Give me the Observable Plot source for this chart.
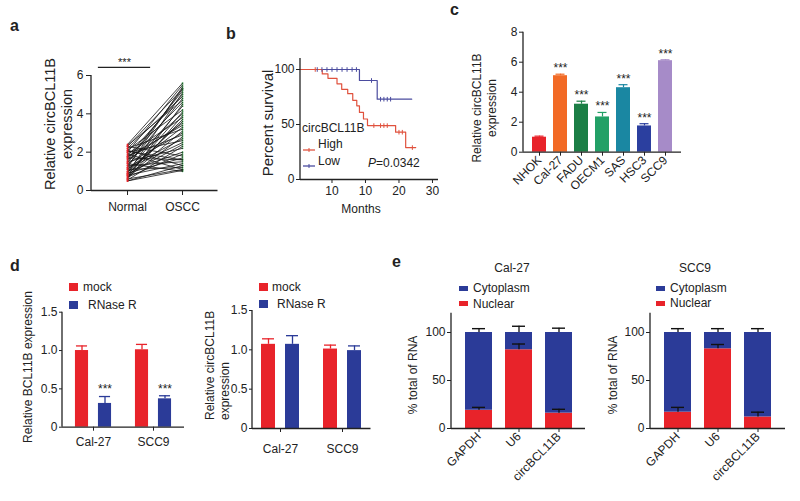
<!DOCTYPE html>
<html><head><meta charset="utf-8">
<script src="https://cdn.jsdelivr.net/npm/d3@7"></script>
<script src="https://cdn.jsdelivr.net/npm/@observablehq/plot@0.6"></script>
<style>
body{margin:0;background:#fff;}
#root{position:relative;width:800px;height:501px;overflow:hidden;background:#fff;}
</style></head><body><div id="root"></div>
<script>
// ---------------- DATA ----------------
// panel a: paired expression (Normal vs OSCC)
const aGroups = ["Normal", "OSCC"];
const aYTicks = [0, 2, 4, 6];
const aNormal = [2.4,2.3,2.3,2.2,2.2,2.1,2.1,2.0,2.0,1.9,1.9,1.8,1.8,1.7,1.7,1.6,1.6,1.5,1.5,1.4,1.4,1.3,1.3,1.2,1.2,1.1,1.1,1.0,1.0,0.95,0.9,0.9,0.85,0.8,0.8,0.75,0.7,0.7,0.65,0.6,0.6,0.55,0.5,2.35,2.05,1.75,1.45,1.15,0.85,0.5];
const aOSCC   = [5.6,1.8,5.3,3.2,4.9,1.3,4.2,5.5,2.6,3.8,1.1,5.0,2.9,4.6,1.6,3.5,5.2,2.2,4.0,1.0,3.0,4.8,1.5,2.7,5.4,3.3,1.2,4.4,2.0,3.6,1.7,5.1,2.4,4.1,1.4,3.1,2.8,1.9,4.5,1.1,3.9,2.3,1.3,4.7,1.6,3.4,5.3,2.5,3.7,1.05];
const aSig = [{x1: -0.53, x2: 0.42, y: 6.42, label: "***"}];

// panel b: Kaplan-Meier
const bXTicks = [0, 10, 20, 30];
const bXTickLabels = ["10", "10", "20", "30"];
const bYTicks = [0, 50, 100];
const bHighTime = [-9.4,-2.9,-1.2,1.5,2.9,4.7,6.2,7.4,8.2,9.4,10.6,19.0,22.0,25.0];
const bHighSurv = [100,96,92,87,82,78,72,67,61,55,49,43,29,29];
const bLowTime  = [-9.4,8.2,13.5,23.8];
const bLowSurv  = [100,90,73,73];
const bHighCensorTime = [-5.0,12.5,14.5,15.5,16.5,20.0,21.0,24.0];
const bHighCensorSurv = [100,49,49,49,49,43,43,29];
const bLowCensorTime  = [-4.4,-3.0,-1.5,0.0,1.5,3.0,4.5,6.0,7.3,11.8,14.5,15.5,16.5,17.5];
const bLowCensorSurv  = [100,100,100,100,100,100,100,100,100,90,73,73,73,73];

// panel c: cell lines
const cCells  = ["NHOK","Cal-27","FADU","OECM1","SAS","HSC3","SCC9"];
const cValues = [1.0,5.1,3.2,2.35,4.3,1.75,6.1];
const cErrors = [0.07,0.1,0.2,0.3,0.2,0.15,0.06];
const cSig    = ["","***","***","***","***","***","***"];
const cColors = ["#e8232a","#f26a25","#1b7e45","#22a066","#1a87a2","#2b3f9f","#a68bc8"];
const cYTicks = [0,2,4,6,8];

// panel d: RNase R
const dCells = ["Cal-27","SCC9"];
const dTreat = ["mock","RNase R"];
const dYTicks = [0,0.5,1.0,1.5];
const dBclMock = [1.00,1.01], dBclMockErr = [0.06,0.07];
const dBclRnase = [0.31,0.37], dBclRnaseErr = [0.09,0.04];
const dBclSig = ["***","***"];
const dCircMock = [1.07,1.01], dCircMockErr = [0.07,0.05];
const dCircRnase = [1.07,0.99], dCircRnaseErr = [0.11,0.06];

// panel e: subcellular fractions
const eGenes = ["GAPDH","U6","circBCL11B"];
const eComps = ["Cytoplasm","Nuclear"];
const eYTicks = [0,50,100];
const eCalNuclear = [19,82,16], eCalNuclearErr = [3,6,4], eCalCyto = [81,18,84], eCalTotalErr = [4,6.5,4.5];
const eSccNuclear = [17,83,12], eSccNuclearErr = [5,4.5,5], eSccCyto = [83,17,88], eSccTotalErr = [4,4,4];

// ---------------- STYLE ----------------
const FONT = "'Liberation Sans', Arial, Helvetica, sans-serif";
const RED = "#e8232a", BLUE = "#2b3b98", AX = "#222";
const KM_RED = "#e0523e", KM_BLUE = "#4b4c9f";
const baseStyle = {fontFamily: FONT, fontSize: "12px", color: "#222", background: "none", overflow: "visible"};
const root = document.getElementById("root");
const fmtNum = v => String(v);

function place(svg, left, top, mL, mT, yBottom) {
  svg.style.position = "absolute";
  svg.style.left = left + "px";
  svg.style.top = top + "px";
  d3.select(svg).append("line")
    .attr("x1", mL).attr("x2", mL).attr("y1", mT).attr("y2", yBottom)
    .attr("stroke", AX).attr("stroke-width", 1.3);
  root.appendChild(svg);
}

// ---------------- PANEL a ----------------
{
  const W = 220, H = 200, mL = 91, mR = 2.5, mT = 35, mB = 50;
  const long = aNormal.flatMap((v, i) => [{id: i, g: 0, v}, {id: i, g: 1, v: aOSCC[i]}]);
  const p = Plot.plot({
    width: W, height: H, marginLeft: mL, marginRight: mR, marginTop: mT, marginBottom: mB,
    style: baseStyle,
    x: {domain: [-0.655, 1.645], ticks: [0, 1], tickFormat: i => aGroups[i], tickSize: 5, tickPadding: 6.5, label: null},
    y: {domain: [0, 6], ticks: aYTicks, tickFormat: fmtNum, tickSize: 5, tickPadding: 3, label: null},
    marks: [
      Plot.dot(long.filter(d => d.g === 1), {x: "g", y: "v", r: 0.9, fill: "#3aa04c"}),
      Plot.line(long, {x: "g", y: "v", z: "id", stroke: "#151515", strokeWidth: 0.8}),
      Plot.dot(long.filter(d => d.g === 0), {x: "g", y: "v", r: 0.9, fill: RED}),
      Plot.ruleY([0], {stroke: AX, strokeWidth: 1.3}),
      Plot.ruleY(aSig, {y: "y", x1: "x1", x2: "x2", stroke: AX, strokeWidth: 1.2}),
      Plot.text(aSig, {x: d => (d.x1 + d.x2) / 2, y: "y", text: "label", dy: -5, fontSize: 11})
    ]
  });
  place(p, 0, 40, mL, mT, H - mB);
}

// ---------------- PANEL b ----------------
{
  const W = 215, H = 190, mL = 70, mR = 7, mT = 18, mB = 51;
  const high = bHighTime.map((t, i) => ({t, s: bHighSurv[i]}));
  const low = bLowTime.map((t, i) => ({t, s: bLowSurv[i]}));
  const highC = bHighCensorTime.map((t, i) => ({t, s: bHighCensorSurv[i]}));
  const lowC = bLowCensorTime.map((t, i) => ({t, s: bLowCensorSurv[i]}));
  const vbar = {draw(ctx, size) { const r = Math.sqrt(size / Math.PI); ctx.moveTo(0, -r); ctx.lineTo(0, r); }};
  const p = Plot.plot({
    width: W, height: H, marginLeft: mL, marginRight: mR, marginTop: mT, marginBottom: mB,
    style: baseStyle,
    x: {domain: [-9.4, 31.8], ticks: bXTicks, tickFormat: v => bXTickLabels[bXTicks.indexOf(+v)], tickSize: 4, tickPadding: 3, label: null},
    y: {domain: [0, 110], ticks: bYTicks, tickFormat: fmtNum, tickSize: 4, tickPadding: 2, label: null},
    marks: [
      Plot.ruleY([0], {stroke: AX, strokeWidth: 1.3}),
      Plot.line(low, {x: "t", y: "s", curve: "step-after", stroke: KM_BLUE, strokeWidth: 1.2}),
      Plot.line(high, {x: "t", y: "s", curve: "step-after", stroke: KM_RED, strokeWidth: 1.2}),
      Plot.dot(lowC, {x: "t", y: "s", symbol: vbar, r: 2.3, stroke: KM_BLUE, fill: "none", strokeWidth: 1}),
      Plot.dot(highC, {x: "t", y: "s", symbol: vbar, r: 2.3, stroke: KM_RED, fill: "none", strokeWidth: 1})
    ]
  });
  place(p, 230, 40, mL, mT, H - mB);
}

// ---------------- PANEL c ----------------
{
  const W = 240, H = 200, mL = 78, mR = 4, mT = 11.7, mB = 68.3;
  const rows = cCells.map((c, i) => ({c, v: cValues[i], e: cErrors[i], s: cSig[i]}));
  const p = Plot.plot({
    width: W, height: H, marginLeft: mL, marginRight: mR, marginTop: mT, marginBottom: mB,
    style: baseStyle,
    x: {type: "band", domain: cCells, paddingInner: 0.35, paddingOuter: 0.34, tickSize: 4, tickPadding: 2, tickRotate: -45, label: null},
    y: {domain: [0, 8], ticks: cYTicks, tickFormat: fmtNum, tickSize: 4, tickPadding: 2, label: null},
    color: {domain: cCells, range: cColors},
    marks: [
      Plot.barY(rows, {x: "c", y: "v", fill: "c"}),
      Plot.ruleX(rows, {x: "c", y1: "v", y2: d => d.v + d.e, stroke: "c", strokeWidth: 1.2}),
      Plot.tickY(rows, {x: "c", y: d => d.v + d.e, stroke: "c", strokeWidth: 1.2, insetLeft: 2.5, insetRight: 2.5}),
      Plot.text(rows, {x: "c", y: d => d.v + d.e, text: "s", dy: -6, fontSize: 12}),
      Plot.ruleY([0], {stroke: AX, strokeWidth: 1.3})
    ]
  });
  place(p, 445, 20, mL, mT, H - mB);
}

// ---------------- PANEL d ----------------
function dPanel(left, top, W, H, mL, mR, mT, mB, pI, pO, off, mock, mockErr, rnase, rnaseErr, sig, xPad) {
  const r0 = mL, r1 = W - mR;
  const step = (r1 - r0) / (dCells.length - pI + 2 * pO);
  const bw = step * (1 - pI), barW = 14, capW = 12;
  const mk = dCells.map((c, i) => ({c, v: mock[i], e: mockErr[i]}));
  const rn = dCells.map((c, i) => ({c, v: rnase[i], e: rnaseErr[i], s: sig ? sig[i] : ""}));
  const barMarks = (rows, o, color) => [
    Plot.barY(rows, {x: "c", y: "v", fill: color, insetLeft: bw / 2 + o - barW / 2, insetRight: bw / 2 - o - barW / 2}),
    Plot.ruleX(rows, {x: "c", y1: "v", y2: d => d.v + d.e, dx: o, stroke: color, strokeWidth: 1.3}),
    Plot.tickY(rows, {x: "c", y: d => d.v + d.e, dx: o, stroke: color, strokeWidth: 1.3, insetLeft: bw / 2 - capW / 2, insetRight: bw / 2 - capW / 2})
  ];
  const p = Plot.plot({
    width: W, height: H, marginLeft: mL, marginRight: mR, marginTop: mT, marginBottom: mB,
    style: baseStyle,
    x: {type: "band", domain: dCells, paddingInner: pI, paddingOuter: pO, tickSize: 4, tickPadding: xPad, label: null},
    y: {domain: [0, 1.5], ticks: dYTicks, tickFormat: v => v === 0 ? "0" : v.toFixed(1), tickSize: 3, tickPadding: 2, label: null},
    marks: [
      ...barMarks(mk, -off, RED),
      ...barMarks(rn, off, BLUE),
      Plot.text(rn, {x: "c", y: d => d.v + d.e, text: "s", dx: off, dy: -7, fontSize: 12}),
      Plot.ruleY([0], {stroke: AX, strokeWidth: 1.3})
    ]
  });
  place(p, left, top, mL, mT, H - mB);
}
dPanel(0, 290, 200, 180, 62, 16, 21.7, 43.3, 0.393, 0.2, 11.5, dBclMock, dBclMockErr, dBclRnase, dBclRnaseErr, dBclSig, 6);
dPanel(205, 290, 175, 180, 47, 9.5, 20, 42, 0.392, 0.144, 12, dCircMock, dCircMockErr, dCircRnase, dCircRnaseErr, null, 12);

// ---------------- PANEL e ----------------
function ePanel(left, top, W, H, mL, mR, nuc, nucErr, cyto, totErr) {
  const mT = 12.8, mB = 52;
  const rows = eGenes.map((g, i) => ({g, n: nuc[i], ne: nucErr[i], t: nuc[i] + cyto[i], te: totErr[i]}));
  const long = eGenes.flatMap((g, i) => [{g, comp: "Nuclear", v: nuc[i]}, {g, comp: "Cytoplasm", v: cyto[i]}]);
  const p = Plot.plot({
    width: W, height: H, marginLeft: mL, marginRight: mR, marginTop: mT, marginBottom: mB,
    style: baseStyle,
    x: {type: "band", domain: eGenes, paddingInner: 0.325, paddingOuter: 0.31, tickSize: 4, tickPadding: 2, tickRotate: -45, label: null},
    y: {domain: [0, 120], ticks: eYTicks, tickFormat: fmtNum, tickSize: 4, tickPadding: 2, label: null},
    color: {domain: eComps, range: [BLUE, RED]},
    marks: [
      Plot.barY(long, {x: "g", y: "v", fill: "comp"}),
      Plot.ruleX(rows, {x: "g", y1: "t", y2: d => d.t + d.te, stroke: "#111", strokeWidth: 1.3}),
      Plot.tickY(rows, {x: "g", y: d => d.t + d.te, stroke: "#111", strokeWidth: 1.4, insetLeft: 7, insetRight: 7}),
      Plot.ruleX(rows, {x: "g", y1: "n", y2: d => d.n + d.ne, stroke: "#111", strokeWidth: 1.3}),
      Plot.tickY(rows, {x: "g", y: d => d.n + d.ne, stroke: "#111", strokeWidth: 1.4, insetLeft: 7, insetRight: 7}),
      Plot.ruleY([0], {stroke: AX, strokeWidth: 1.3})
    ]
  });
  place(p, left, top, mL, mT, H - mB);
}
ePanel(400, 300, 190, 180, 51, 5, eCalNuclear, eCalNuclearErr, eCalCyto, eCalTotalErr);
ePanel(600, 300, 195, 180, 50, 10, eSccNuclear, eSccNuclearErr, eSccCyto, eSccTotalErr);

// ---------------- TEXT OVERLAY ----------------
const ov = d3.select(root).append("svg")
  .attr("width", 800).attr("height", 501)
  .style("position", "absolute").style("left", "0px").style("top", "0px")
  .attr("font-family", FONT).attr("fill", "#222");
function T(x, y, s, o = {}) {
  const t = ov.append("text")
    .attr("transform", `translate(${x},${y})` + (o.rot ? ` rotate(${o.rot})` : ""))
    .attr("font-size", o.size || 12)
    .attr("text-anchor", o.anchor || "start")
    .attr("dominant-baseline", o.base || "central")
    .attr("font-weight", o.weight || "normal")
    .text(s);
  return t;
}
function swatchRect(x, y, w, h, color) {
  ov.append("rect").attr("x", x).attr("y", y).attr("width", w).attr("height", h).attr("fill", color);
}
// panel letters
T(10, 31, "a", {size: 16, weight: "bold", base: "alphabetic"});
T(226, 39, "b", {size: 16, weight: "bold", base: "alphabetic"});
T(450, 15, "c", {size: 16, weight: "bold", base: "alphabetic"});
T(10, 271, "d", {size: 16, weight: "bold", base: "alphabetic"});
T(392, 267, "e", {size: 16, weight: "bold", base: "alphabetic"});

// a titles
T(50, 124, "Relative circBCL11B", {size: 14.5, rot: -90, anchor: "middle"});
T(67, 124, "expression", {size: 14.5, rot: -90, anchor: "middle"});

// b titles / legend
T(267.5, 123, "Percent survival", {size: 15, rot: -90, anchor: "middle"});
T(361, 209, "Months", {size: 12, anchor: "middle"});
T(302, 128, "circBCL11B", {size: 12});
ov.append("line").attr("x1", 303).attr("x2", 315).attr("y1", 150).attr("y2", 150).attr("stroke", KM_RED).attr("stroke-width", 1.3);
ov.append("line").attr("x1", 309).attr("x2", 309).attr("y1", 148).attr("y2", 152).attr("stroke", KM_RED).attr("stroke-width", 1);
T(318, 144, "High", {size: 12});
ov.append("line").attr("x1", 303).attr("x2", 315).attr("y1", 166).attr("y2", 166).attr("stroke", KM_BLUE).attr("stroke-width", 1.3);
ov.append("line").attr("x1", 309).attr("x2", 309).attr("y1", 164).attr("y2", 168).attr("stroke", KM_BLUE).attr("stroke-width", 1);
T(318, 161, "Low", {size: 12});
{
  const t = T(368, 163, "", {size: 12});
  t.append("tspan").attr("font-style", "italic").text("P");
  t.append("tspan").text("=0.0342");
}

// c titles
T(477, 108, "Relative circBCL11B", {size: 12, rot: -90, anchor: "middle"});
T(492, 108, "expression", {size: 12, rot: -90, anchor: "middle"});

// d titles / legends
T(28, 367, "Relative BCL11B expression", {size: 12, rot: -90, anchor: "middle"});
swatchRect(69, 283, 9, 8, RED); T(83, 287, "mock");
swatchRect(69, 301, 9, 8, BLUE); T(88, 305, "RNase R");
T(210, 420, "Relative circBCL11B", {size: 12, rot: -90, anchor: "start"});
T(225, 420, "expression", {size: 12, rot: -90, anchor: "start"});
swatchRect(259, 283, 9, 8, RED); T(272, 287, "mock");
swatchRect(259, 300, 9, 8, BLUE); T(277, 304, "RNase R");

// e titles / legends
T(512, 268, "Cal-27", {anchor: "middle"});
swatchRect(459, 286, 9, 5, BLUE); T(473, 288, "Cytoplasm");
swatchRect(459, 301, 9, 5, RED); T(473, 304, "Nuclear");
T(413, 375, "% total of RNA", {rot: -90, anchor: "middle"});
T(695, 268, "SCC9", {anchor: "middle"});
swatchRect(656, 286, 9, 5, BLUE); T(670, 288, "Cytoplasm");
swatchRect(656, 301, 9, 5, RED); T(670, 303, "Nuclear");
T(613, 375, "% total of RNA", {rot: -90, anchor: "middle"});
</script></body></html>
